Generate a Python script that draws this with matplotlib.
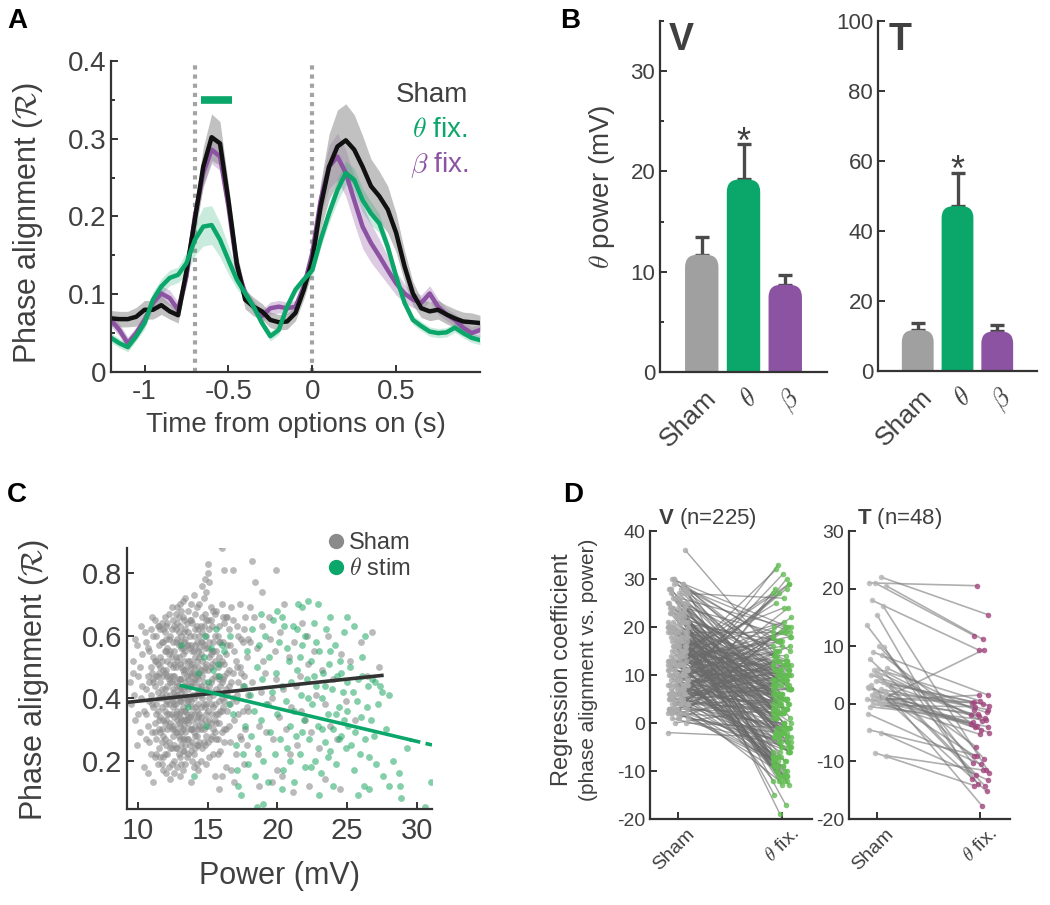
import numpy as np
import matplotlib
matplotlib.use("Agg")
import matplotlib.pyplot as plt
from matplotlib.patches import FancyBboxPatch
from matplotlib.lines import Line2D
from matplotlib.collections import LineCollection
from matplotlib.ticker import MultipleLocator, FuncFormatter
from matplotlib.transforms import ScaledTranslation

# ---------------- data ----------------
# A: phase alignment time courses (sampled every 50 ms from -1.2 s)
t_start, t_step = -1.2, 0.05
sham_R = [0.069, 0.068, 0.068, 0.071, 0.080, 0.080, 0.086, 0.078, 0.073, 0.130,
          0.196, 0.264, 0.302, 0.294, 0.221, 0.140, 0.093, 0.084, 0.078, 0.067,
          0.064, 0.065, 0.076, 0.106, 0.144, 0.213, 0.264, 0.290, 0.298, 0.286,
          0.264, 0.239, 0.226, 0.209, 0.179, 0.136, 0.101, 0.082, 0.078, 0.080,
          0.074, 0.069, 0.065, 0.064, 0.063]
theta_R = [0.044, 0.037, 0.032, 0.046, 0.063, 0.093, 0.110, 0.121, 0.125, 0.140,
           0.170, 0.187, 0.189, 0.170, 0.144, 0.119, 0.101, 0.084, 0.063, 0.046,
           0.054, 0.084, 0.106, 0.119, 0.131, 0.170, 0.204, 0.234, 0.256, 0.247,
           0.221, 0.204, 0.191, 0.161, 0.123, 0.089, 0.067, 0.059, 0.052, 0.050,
           0.051, 0.057, 0.050, 0.044, 0.041]
beta_R = [0.067, 0.054, 0.037, 0.050, 0.067, 0.089, 0.101, 0.095, 0.080, 0.123,
          0.200, 0.256, 0.286, 0.277, 0.213, 0.136, 0.101, 0.084, 0.072, 0.082,
          0.084, 0.082, 0.084, 0.110, 0.153, 0.221, 0.264, 0.277, 0.256, 0.221,
          0.187, 0.166, 0.149, 0.131, 0.114, 0.101, 0.093, 0.089, 0.101, 0.084,
          0.074, 0.067, 0.057, 0.050, 0.054]
sham_sem = [0.010, 0.010, 0.010, 0.012, 0.012, 0.012, 0.012, 0.010, 0.010, 0.015,
            0.020, 0.025, 0.030, 0.028, 0.020, 0.015, 0.012, 0.012, 0.010, 0.010,
            0.010, 0.010, 0.010, 0.012, 0.015, 0.030, 0.042, 0.047, 0.047, 0.045,
            0.040, 0.035, 0.032, 0.030, 0.025, 0.020, 0.015, 0.012, 0.012, 0.012,
            0.012, 0.012, 0.012, 0.012, 0.010]
theta_sem = [0.006, 0.006, 0.006, 0.006, 0.008, 0.010, 0.010, 0.010, 0.010, 0.015,
             0.020, 0.025, 0.025, 0.022, 0.018, 0.012, 0.008, 0.006, 0.006, 0.006,
             0.006, 0.006, 0.006, 0.006, 0.008, 0.010, 0.012, 0.015, 0.015, 0.015,
             0.015, 0.015, 0.012, 0.010, 0.008, 0.006, 0.006, 0.006, 0.006, 0.006,
             0.006, 0.006, 0.006, 0.006, 0.006]
beta_sem = [0.008, 0.008, 0.008, 0.008, 0.008, 0.008, 0.010, 0.010, 0.010, 0.012,
            0.015, 0.018, 0.018, 0.018, 0.015, 0.012, 0.008, 0.008, 0.008, 0.008,
            0.008, 0.008, 0.008, 0.010, 0.012, 0.020, 0.028, 0.030, 0.030, 0.030,
            0.028, 0.025, 0.022, 0.018, 0.015, 0.012, 0.010, 0.010, 0.010, 0.010,
            0.008, 0.008, 0.008, 0.008, 0.008]
event_times = [-0.7, 0.0]
sig_window = [-0.665, -0.48]
sig_level = 0.35

# B: theta power bars
bar_labels = ['Sham', r'$\theta$', r'$\beta$']
v_power = [11.7, 19.2, 8.7]
v_power_err = [1.8, 3.5, 1.0]
t_power = [11.7, 47.1, 11.3]
t_power_err = [2.0, 9.5, 1.7]

# C: single-trial power (x10 mV) vs phase alignment (x100)
sham_scatter = [
    (94, 45), (95, 38), (96, 52), (97, 41), (98, 33), (99, 57), (100, 47), (101, 29), (102, 40), (103, 54),
    (104, 36), (105, 61), (96, 48), (99, 25), (101, 50), (103, 44), (98, 59), (104, 18), (100, 35), (102, 63),
    (106, 43), (107, 31), (108, 55), (109, 22), (110, 48), (111, 37), (112, 65), (113, 27), (114, 51), (115, 40),
    (106, 58), (107, 16), (108, 39), (109, 62), (110, 29), (111, 53), (112, 44), (113, 35), (114, 19), (115, 57),
    (106, 35), (107, 47), (108, 26), (109, 50), (110, 66), (111, 13), (112, 32), (113, 60), (114, 42), (115, 24),
    (107, 56), (109, 41), (111, 46), (113, 52), (115, 33), (108, 45), (110, 38), (112, 21), (114, 63), (106, 27),
    (116, 45), (117, 30), (118, 58), (119, 36), (120, 49), (121, 22), (122, 67), (123, 41), (124, 53), (125, 28),
    (116, 62), (117, 43), (118, 17), (119, 55), (120, 33), (121, 47), (122, 38), (123, 60), (124, 24), (125, 50),
    (116, 34), (117, 52), (118, 40), (119, 27), (120, 63), (121, 56), (122, 31), (123, 14), (124, 45), (125, 37),
    (116, 21), (117, 64), (118, 49), (119, 43), (120, 25), (121, 39), (122, 54), (123, 32), (124, 69), (125, 43),
    (117, 37), (118, 28), (119, 61), (120, 41), (121, 30), (122, 46), (123, 51), (124, 35), (125, 58), (126, 20),
    (116, 53), (118, 33), (120, 55), (122, 26), (124, 40), (119, 48), (121, 64), (123, 45), (125, 31), (117, 19),
    (126, 47), (127, 35), (128, 59), (129, 28), (130, 51), (131, 42), (132, 66), (133, 23), (134, 55), (135, 38),
    (126, 30), (127, 53), (128, 44), (129, 61), (130, 34), (131, 25), (132, 49), (133, 40), (134, 29), (135, 57),
    (126, 63), (127, 41), (128, 18), (129, 46), (130, 70), (131, 33), (132, 37), (133, 58), (134, 45), (135, 27),
    (126, 38), (127, 24), (128, 52), (129, 35), (130, 43), (131, 60), (132, 30), (133, 48), (134, 19), (135, 64),
    (126, 55), (127, 67), (128, 36), (129, 22), (130, 27), (131, 50), (132, 56), (133, 31), (134, 62), (135, 44),
    (127, 45), (128, 29), (129, 53), (130, 39), (131, 19), (132, 43), (133, 65), (134, 36), (135, 50), (136, 32),
    (126, 25), (128, 64), (130, 58), (132, 23), (134, 49), (129, 40), (131, 36), (133, 27), (135, 21), (127, 58),
    (130, 15), (133, 52), (126, 42), (131, 68), (134, 41),
    (136, 46), (137, 34), (138, 57), (139, 26), (140, 50), (141, 41), (142, 63), (143, 30), (144, 53), (145, 37),
    (136, 61), (137, 44), (138, 23), (139, 48), (140, 35), (141, 67), (142, 28), (143, 55), (144, 42), (145, 20),
    (136, 27), (137, 56), (138, 39), (139, 64), (140, 22), (141, 31), (142, 47), (143, 38), (144, 70), (145, 49),
    (136, 39), (137, 25), (138, 50), (139, 33), (140, 60), (141, 53), (142, 36), (143, 17), (144, 31), (145, 58),
    (137, 65), (138, 30), (139, 41), (140, 45), (141, 24), (142, 58), (143, 46), (144, 26), (145, 43), (146, 66),
    (136, 52), (138, 44), (140, 29), (142, 19), (144, 60), (139, 55), (141, 37), (143, 62), (145, 30), (137, 48),
    (140, 73), (142, 41), (144, 35), (146, 52), (138, 13), (141, 46), (143, 25), (145, 63), (139, 20), (136, 34),
    (146, 76), (148, 78), (149, 74), (150, 80), (151, 77), (147, 72), (152, 69), (150, 83),
    (159, 89), (160, 88), (162, 81), (168, 81), (182, 84), (199, 81),
    (146, 40), (147, 57), (148, 33), (149, 51), (150, 26), (151, 62), (152, 38), (153, 46), (154, 55), (155, 29),
    (146, 24), (147, 45), (148, 67), (149, 35), (150, 49), (151, 21), (152, 54), (153, 63), (154, 41), (155, 60),
    (146, 58), (147, 30), (148, 42), (149, 19), (150, 56), (151, 44), (152, 27), (153, 35), (154, 68), (155, 47),
    (147, 63), (149, 60), (151, 33), (153, 55), (155, 38), (148, 25), (150, 36), (152, 65), (154, 30), (156, 43),
    (146, 32), (148, 50), (150, 65), (152, 45), (154, 22), (149, 43), (151, 53), (153, 28), (155, 67), (157, 50),
    (156, 55), (157, 35), (158, 63), (159, 44), (160, 29), (161, 58), (162, 39), (163, 66), (164, 48), (165, 31),
    (156, 27), (157, 60), (158, 46), (159, 23), (160, 52), (161, 37), (162, 64), (163, 43), (164, 57), (165, 49),
    (156, 68), (157, 42), (158, 32), (159, 58), (160, 70), (161, 46), (162, 26), (163, 54), (164, 36), (165, 62),
    (157, 22), (159, 36), (161, 66), (163, 30), (165, 44), (158, 53), (160, 40), (162, 51), (164, 66), (166, 38),
    (160, 15), (162, 30), (155, 15), (158, 11), (163, 18),
    (166, 57), (167, 45), (168, 65), (169, 33), (170, 52), (171, 41), (172, 60), (173, 28), (174, 48), (175, 36),
    (166, 26), (167, 69), (168, 40), (169, 55), (170, 22), (171, 63), (172, 35), (173, 50), (174, 59), (175, 44),
    (176, 62), (177, 30), (178, 53), (179, 41), (180, 58), (176, 47), (177, 66), (178, 25), (179, 36), (180, 69),
    (167, 17), (170, 39), (173, 70), (176, 19), (179, 59), (168, 48), (172, 45), (175, 58), (178, 37), (169, 13),
    (171, 50), (174, 27),
    (182, 45), (185, 56), (187, 31), (189, 63), (191, 48), (193, 38), (195, 59), (197, 27), (199, 46), (201, 34),
    (183, 66), (186, 22), (188, 42), (190, 52), (192, 29), (194, 66), (196, 40), (198, 55), (200, 17), (202, 61),
    (204, 43), (206, 30), (208, 53), (210, 37), (212, 58), (214, 25), (216, 47), (218, 64), (220, 33), (222, 51),
    (205, 70), (209, 22), (213, 44), (217, 36), (221, 60), (224, 29), (226, 55), (228, 41), (230, 24), (232, 49),
    (234, 38), (236, 60), (238, 31), (240, 46), (243, 27), (246, 54), (249, 39), (252, 52), (256, 33), (260, 58),
    (264, 47), (268, 61), (273, 50), (187, 12), (196, 13), (203, 15), (211, 10), (223, 12), (234, 14), (245, 11),
    (184, 77), (189, 74),
    (111, 45), (112, 52), (113, 38), (114, 47), (115, 63), (116, 29), (117, 58), (118, 47), (119, 32), (120, 59),
    (121, 44), (122, 35), (123, 55), (124, 30), (125, 47), (126, 34), (127, 62), (128, 41), (129, 57), (130, 31),
    (131, 46), (132, 54), (133, 36), (134, 59), (135, 33), (136, 57), (137, 40), (138, 65), (139, 37), (140, 55),
    (141, 28), (142, 52), (143, 42), (144, 48), (145, 34), (146, 61), (147, 38), (148, 56), (149, 28), (150, 42),
    (151, 58), (152, 32), (153, 51), (154, 37), (155, 52), (156, 35), (157, 47), (158, 39), (159, 51), (160, 45),
    (112, 29), (114, 36), (116, 50), (118, 62), (120, 38), (122, 59), (124, 62), (126, 51), (128, 33), (130, 46),
    (132, 27), (134, 33), (136, 22), (138, 35), (140, 40), (142, 33), (144, 56), (146, 47), (148, 37), (150, 31),
    (152, 50), (154, 58), (156, 32), (158, 58), (160, 36), (162, 47), (164, 41), (113, 22), (115, 48), (117, 26),
    (119, 66), (121, 52), (123, 24), (125, 65), (127, 29), (129, 32), (131, 56), (133, 44), (135, 47), (137, 60),
    (139, 30), (141, 62), (143, 34), (145, 54), (147, 26), (149, 65), (151, 40), (153, 42), (155, 33), (157, 27),
    (111, 60), (113, 47), (115, 30), (117, 41), (119, 22), (121, 35), (123, 47), (125, 39), (127, 50), (129, 66),
    (131, 29), (133, 61), (135, 40), (137, 30), (139, 45), (141, 57), (143, 50), (145, 44), (147, 49), (149, 38),
    (128, 24), (130, 21), (132, 17), (134, 25), (136, 43), (138, 47), (140, 18), (142, 25), (124, 19), (126, 16),
    (122, 18), (120, 16), (118, 21), (128, 69), (132, 71), (136, 68), (138, 70), (142, 69), (134, 72), (130, 63),
    (127, 38), (129, 44), (131, 39), (133, 33), (135, 35), (137, 52), (139, 51), (141, 48), (143, 44), (145, 41),
]
theta_scatter = [
    (131, 57), (136, 37), (140, 15), (143, 48), (147, 53), (148, 60), (150, 45), (152, 56), (154, 49), (156, 62),
    (158, 47), (160, 57), (157, 51), (149, 31), (162, 55), (165, 38), (166, 60), (168, 35), (170, 25), (171, 17),
    (172, 12), (174, 9), (175, 22), (176, 44), (177, 31),
    (178, 55), (179, 19), (180, 41), (181, 28), (182, 62), (183, 36), (184, 15), (185, 50), (186, 24), (187, 57),
    (188, 33), (189, 46), (190, 20), (191, 60), (192, 38), (193, 13), (194, 53), (195, 29), (196, 42), (197, 65),
    (198, 22), (199, 48), (200, 35), (201, 58), (202, 27), (203, 44), (204, 17), (205, 63), (206, 39), (207, 24),
    (208, 52), (209, 31), (210, 45), (190, 6), (185, 5), (188, 67), (200, 68), (203, 11), (207, 56), (209, 20),
    (211, 63), (212, 36), (213, 28), (214, 49), (215, 70), (216, 22), (217, 41), (218, 57), (219, 33), (220, 18),
    (221, 46), (222, 71), (223, 27), (224, 52), (225, 38), (226, 64), (227, 20), (228, 44), (229, 31), (230, 55),
    (231, 16), (232, 40), (233, 48), (234, 26), (235, 62), (236, 35), (237, 51), (238, 23), (239, 43), (240, 30),
    (241, 57), (242, 19), (243, 47), (244, 37), (245, 52), (246, 28), (247, 42), (248, 33), (249, 24), (250, 45),
    (212, 13), (214, 62), (216, 53), (218, 29), (220, 60), (222, 40), (224, 18), (226, 47), (228, 58), (230, 9),
    (232, 30), (234, 44), (236, 21), (238, 55), (240, 12), (242, 35), (244, 27), (246, 48), (248, 61), (250, 36),
    (218, 69), (229, 70), (238, 66), (203, 66),
    (251, 31), (252, 50), (253, 25), (254, 42), (255, 17), (256, 29), (257, 39), (258, 46), (259, 22), (260, 34),
    (261, 47), (262, 12), (263, 27), (264, 37), (265, 44), (266, 21), (267, 33), (268, 46), (269, 28), (270, 45),
    (271, 19), (272, 38), (274, 44), (276, 15), (278, 30), (280, 41), (275, 42), (283, 20), (287, 16), (289, 8),
    (293, 24), (280, 12), (288, 12), (306, 5), (310, 13), (263, 60), (258, 9), (266, 11), (261, 53), (255, 63),
    (250, 66),
]
sham_fit = (0.0047, 0.343, 9.2, 27.5)      # slope, intercept, x from, x to
theta_fit = (-0.01055, 0.578, 13.1, 29.5)
theta_fit_extrap = 31.1

# D: regression coefficients per electrode (sham, theta fix.)
v_pairs = [
    (28, 5), (27, 8), (26, 2), (25, 10), (24, 4), (23, 7), (22, 12), (21, 3), (20, 9), (19, 6),
    (30, 1), (29, 11), (28, -3), (27, 6), (26, 9), (25, 0), (24, 11), (23, 2), (22, 8), (21, 5),
    (20, -2), (19, 10), (18, 4), (17, 8), (28, 12), (26, -4), (24, 7), (22, 1), (20, 11), (18, 3),
    (36, 13), (30, 15), (29, 4), (27, -1), (25, 6), (23, 9), (21, 0), (19, 7), (17, 2), (16, 9),
    (27, 14), (25, 3), (23, -3), (21, 10), (19, 1), (17, 5), (16, -1), (24, 18), (22, 16), (20, 14),
    (26, 20), (28, 17), (29, 19), (25, 15), (23, 13), (21, 17), (19, 19), (27, 26), (30, 20), (28, 9),
    (2, 30), (4, 28), (6, 31), (8, 27), (10, 29), (12, 25), (3, 20), (5, 19), (7, 22), (9, 18),
    (11, 20), (13, 19), (14, 17), (6, 16), (8, 14), (10, 13), (12, 16), (4, 12), (15, 21), (5, 24),
    (7, 33), (9, 28), (11, 15), (13, 12), (3, 15), (14, 29), (12, 32), (8, 19), (6, 11), (10, 20),
    (1, 18), (2, 13), (15, 14), (11, 11), (13, 18), (7, 17), (9, 12), (5, 10), (14, 27), (16, 24),
    (1, -5), (2, -8), (3, -11), (4, -3), (5, -9), (6, -12), (7, -6), (8, -2), (9, -10), (10, -7),
    (11, -4), (12, -12), (13, -8), (14, -1), (15, -11), (16, -5), (17, -9), (18, -3), (19, -13), (20, -7),
    (0, -1), (2, -4), (4, -7), (6, -2), (8, -9), (10, -11), (12, -3), (14, -6), (16, -10), (18, -8),
    (20, -12), (22, -5), (24, -9), (25, -15), (23, -17), (21, -19), (3, -6), (5, -1), (7, -10), (9, -5),
    (11, -8), (13, -2), (15, -6), (17, -11), (19, -4), (1, -2), (3, -9), (5, -4), (7, -1), (9, -7),
    (11, -12), (13, -5), (15, -3), (17, -7), (-2, -3), (6, -8), (8, -6), (10, -1), (12, -9), (14, -11),
    (16, -2), (18, -6), (2, 0), (4, -1), (22, -10), (26, -12), (27, -7), (28, -11), (24, -2), (21, -13),
    (3, 8), (4, 5), (5, 2), (6, 10), (7, 6), (8, 3), (9, 9), (10, 4), (11, 7), (12, 1),
    (13, 10), (14, 5), (15, 8), (16, 2), (17, 12), (18, 6), (19, 3), (20, 7), (3, 2), (5, 6),
    (7, 11), (9, 1), (11, 3), (13, 6), (15, 0), (17, 4), (19, 9), (4, 9), (6, 4), (8, 7),
    (10, 10), (12, 5), (14, 2), (16, 7), (18, 10), (20, 4), (5, 13), (7, 3), (9, 6), (11, 9),
    (13, 4), (15, 11), (17, 1), (19, 5), (21, 8), (8, 12), (10, 2), (12, 8), (14, 13), (16, 4),
    (6, 7), (4, 3), (2, 5), (1, 9), (0, 3),
]
t_pairs = [
    (21, 20.5), (22, 15.5), (21, 11.8), (20.5, 11.2), (18, 9.3), (17, -12), (15.5, -13), (13.7, -10.3),
    (10, -9.5), (9.8, -14), (9, 1.5), (8.5, -4), (7.8, -11.5), (6, 0.5), (5.8, -2), (5.5, -3),
    (5, -1.5), (4.5, -7.5), (4, -2.5), (3.5, 0.3), (3, -4.5), (2.7, -3.8), (2.5, -1), (2, -9),
    (1.8, 0), (1.5, -2.2), (1.2, -5), (1, 0.2), (0.8, -3.2), (0.5, 9.4), (0.3, -1.8), (0, -4),
    (-0.3, -0.5), (-0.5, -2.8), (0.2, -5.3), (1.3, -3.5), (2.2, -17.7), (3.2, -15.2), (4.8, -12.3), (5.2, -14.2),
    (6.2, -1), (-1.7, -10.5), (-4.5, -9), (-5, -13.2), (-8.5, -14.2), (-9, -11.5), (0.6, 1.5), (3.8, -0.3),
]
d_labels = ['Sham', r'$\theta$ fix.']

# ---------------- style ----------------
plt.rcParams['font.family'] = ['Liberation Sans', 'DejaVu Sans']
plt.rcParams['mathtext.fontset'] = 'custom'
plt.rcParams['mathtext.rm'] = 'Liberation Sans'
plt.rcParams['mathtext.bf'] = 'Liberation Sans:bold'
plt.rcParams['axes.unicode_minus'] = False
plt.rcParams['xtick.direction'] = 'in'
plt.rcParams['ytick.direction'] = 'in'

TXT = '#404040'
AX = '#333333'
GREEN = '#0ba66a'
PURPLE = '#8b53a1'
GRAY = '#a0a0a0'

W, H = 1050, 905
fig = plt.figure(figsize=(W / 100, H / 100), dpi=100)
gfmt = FuncFormatter(lambda v, p: f'{v:g}')


def px_axes(l, t, r, b):
    return fig.add_axes([l / W, 1 - b / H, (r - l) / W, (b - t) / H])


def style(ax, size):
    for s in ['top', 'right']:
        ax.spines[s].set_visible(False)
    for s in ['left', 'bottom']:
        ax.spines[s].set_color(AX)
        ax.spines[s].set_linewidth(1.6)
    ax.tick_params(which='both', colors=AX, labelcolor=TXT, labelsize=size, width=1.4)
    ax.tick_params(which='major', length=5)
    ax.tick_params(which='minor', length=3)
    ax.xaxis.set_major_formatter(gfmt)
    ax.yaxis.set_major_formatter(gfmt)


# ---------------- A ----------------
ax = px_axes(111, 61, 480, 372)
t = np.round(t_start + t_step * np.arange(len(sham_R)), 3)
series = [
    (beta_R, beta_sem, PURPLE, 0.3),
    (sham_R, sham_sem, '#8f8f8f', 0.55),
    (theta_R, theta_sem, GREEN, 0.22),
]
for y, e, c, a in series:
    y, e = np.array(y), np.array(e)
    ax.fill_between(t, y - e, y + e, color=c, alpha=a, lw=0)
for y, c in [(beta_R, PURPLE), (sham_R, '#111111'), (theta_R, GREEN)]:
    ax.plot(t, y, color=c, lw=3.2, solid_joinstyle='round')
for ev in event_times:
    ax.axvline(ev, color='#a3a3a3', lw=3, ls=(0, (1, 1.2)), zorder=0)
ax.plot(sig_window, [sig_level, sig_level], color=GREEN, lw=5.5, solid_capstyle='butt')
ax.set_xlim(-1.2, 1.0)
ax.set_ylim(0, 0.4)
ax.set_xticks([-1, -0.5, 0, 0.5])
ax.set_yticks([0, 0.1, 0.2, 0.3, 0.4])
ax.yaxis.set_minor_locator(MultipleLocator(0.05))
style(ax, 20)
ax.tick_params(axis='x', pad=5)
ax.set_xlabel('Time from options on (s)', fontsize=20, color=TXT, va='top')
ax.xaxis.set_label_coords(0.5, -0.128)
ax.set_ylabel(r'Phase alignment ($\mathcal{R}$)', fontsize=22, color=TXT, math_fontfamily='cm', va='center')
ax.yaxis.set_label_coords(-0.225, 0.479)
for txt, c, yy in [('Sham', TXT, 0.891), (r'$\theta$ fix.', GREEN, 0.778), (r'$\beta$ fix.', PURPLE, 0.666)]:
    ax.text(0.967, yy, txt, color=c, fontsize=20, ha='right', va='center', transform=ax.transAxes,
            math_fontfamily='cm')


# ---------------- B ----------------
def rounded_bars(ax, means, colors, width=0.8, r=0.3):
    x0, x1 = ax.get_xlim()
    y0, y1 = ax.get_ylim()
    bb = ax.get_position()
    aspect = ((y1 - y0) / (bb.height * H)) / ((x1 - x0) / (bb.width * W))
    low = y0 - (y1 - y0) * 0.2
    for i, (m, c) in enumerate(zip(means, colors)):
        ax.add_patch(FancyBboxPatch((i + 1 - width / 2, low), width, m - low,
                                    boxstyle=f'round,pad=0,rounding_size={r}',
                                    mutation_aspect=aspect, fc=c, ec='none', zorder=2))


def bar_panel(ax, means, errs, ymax, yticks, letter, star_off):
    ax.set_xlim(0, 4)
    ax.set_ylim(0, ymax)
    rounded_bars(ax, means, [GRAY, GREEN, PURPLE])
    xs = np.arange(1, 4)
    ax.errorbar(xs, means, yerr=[np.zeros(3), errs], fmt='none', ecolor='#4a4a4a',
                elinewidth=2.4, capsize=5, capthick=2.4, zorder=1)
    ax.annotate('*', (2, means[1] + errs[1]), xytext=(0, star_off), textcoords='offset points',
                ha='center', va='baseline', fontsize=26, color=TXT)
    ax.set_yticks(yticks)
    style(ax, 16)
    ax.set_xticks(xs)
    ax.set_xticklabels(bar_labels, rotation=45, ha='right', va='center', rotation_mode='anchor',
                       fontsize=19, math_fontfamily='cm')
    ax.tick_params(axis='x', length=0, pad=16)
    for lab in ax.get_xticklabels():
        lab.set_transform(lab.get_transform() + ScaledTranslation(11 / 100, 0, fig.dpi_scale_trans))
    ax.text(0.13, 0.946, letter, transform=ax.transAxes, fontsize=27, fontweight='bold',
            color=TXT, ha='center', va='center')


axv = px_axes(660, 21, 827, 372)
bar_panel(axv, v_power, v_power_err, 35, [0, 10, 20, 30], 'V', -6)
axv.yaxis.set_minor_locator(MultipleLocator(5))
axv.set_ylabel(r'$\theta$ power (mV)', fontsize=20, color=TXT, math_fontfamily='cm', va='center')
axv.yaxis.set_label_coords(-0.347, 0.527)

axt = px_axes(878, 21, 1037, 371)
bar_panel(axt, t_power, t_power_err, 100, [0, 20, 40, 60, 80, 100], 'T', -6)
axt.texts[-1].set_x(0.138)

# ---------------- C ----------------
ax = px_axes(127, 548, 432, 809)
sp = np.array(sham_scatter, dtype=float)
tp = np.array(theta_scatter, dtype=float)
ax.scatter(sp[:, 0] / 10, sp[:, 1] / 100, s=24, color='#8c8c8c', alpha=0.6, lw=0, zorder=1)
ax.scatter(tp[:, 0] / 10, tp[:, 1] / 100, s=24, color='#1fa865', alpha=0.55, lw=0, zorder=2)
k, b, xa, xb = sham_fit
ax.plot([xa, xb], [k * xa + b, k * xb + b], color='#333333', lw=2.6, zorder=3)
k, b, xa, xb = theta_fit
ax.plot([xa, xb], [k * xa + b, k * xb + b], color=GREEN, lw=2.6, zorder=3)
ax.plot([xb, theta_fit_extrap], [k * xb + b, k * theta_fit_extrap + b], color=GREEN, lw=2.6,
        ls=(0, (3, 1.5)), zorder=3)
ax.set_xlim(9.2, 31.1)
ax.set_ylim(0.045, 0.88)
ax.set_xticks([10, 15, 20, 25, 30])
ax.set_yticks([0.2, 0.4, 0.6, 0.8])
style(ax, 21)
ax.tick_params(axis='x', pad=6)
ax.set_xlabel('Power (mV)', fontsize=22, color=TXT, va='top')
ax.xaxis.set_label_coords(0.5, -0.2)
ax.set_ylabel(r'Phase alignment ($\mathcal{R}$)', fontsize=22, color=TXT, math_fontfamily='cm', va='center')
ax.yaxis.set_label_coords(-0.305, 0.494)
handles = [Line2D([], [], ls='none', marker='o', ms=10, color='#8a8a8a'),
           Line2D([], [], ls='none', marker='o', ms=10, color=GREEN)]
leg = ax.legend(handles, ['Sham', r'$\theta$ stim'], loc='upper left', bbox_to_anchor=(0.655, 1.06),
                frameon=False, fontsize=17, handlelength=0.8, handletextpad=0.15, labelspacing=0.15,
                borderpad=0, borderaxespad=0)
for tx in leg.get_texts():
    tx.set_color(TXT)
    tx.set_math_fontfamily('cm')


# ---------------- D ----------------
jit = np.array([-0.08, 0.04, -0.02, 0.09, -0.05, 0.06, 0.0, -0.10, 0.02, 0.07, -0.04,
                0.05, -0.07, 0.01, -0.03, 0.08, -0.06, 0.03, -0.01, 0.10, -0.09])


def pair_panel(ax, pairs, ylim, yticks, c_sham, c_fix, c_line, lw, title):
    p = np.array(pairs, dtype=float)
    n = len(p)
    x1 = 1 + np.resize(jit, n)
    x2 = 2 + np.resize(np.roll(jit, 7), n) * 0.9
    segs = [[(a, s), (bx, f)] for a, s, bx, f in zip(x1, p[:, 0], x2, p[:, 1])]
    ax.add_collection(LineCollection(segs, colors=c_line, linewidths=lw, alpha=0.6, zorder=1))
    ax.scatter(x1, p[:, 0], s=16, color=c_sham, alpha=0.8, lw=0, zorder=2)
    ax.scatter(x2, p[:, 1], s=16, color=c_fix, alpha=0.8, lw=0, zorder=2)
    ax.set_xlim(0.73, 2.29)
    ax.set_ylim(*ylim)
    ax.set_yticks(yticks)
    style(ax, 14)
    ax.set_xticks([1, 2])
    ax.set_xticklabels(d_labels, rotation=45, ha='right', va='center', rotation_mode='anchor',
                       fontsize=14, math_fontfamily='cm')
    ax.tick_params(axis='x', pad=9)
    for lab in ax.get_xticklabels():
        lab.set_transform(lab.get_transform() + ScaledTranslation(14 / 100, 0, fig.dpi_scale_trans))
    ax.text(0.05, 1.045, title, transform=ax.transAxes, fontsize=16, color=TXT, ha='left', va='center')


axd1 = px_axes(650, 531, 812, 819)
pair_panel(axd1, v_pairs, (-20, 40), range(-20, 41, 10), '#ababab', '#62bd52', '#6a6a6a', 1.0,
           r'$\mathbf{V}$ (n=225)')
axd2 = px_axes(849, 531, 1010, 819)
pair_panel(axd2, t_pairs, (-20, 30), range(-20, 31, 10), '#b5b5b5', '#a0437c', '#7a7a7a', 1.2,
           r'$\mathbf{T}$ (n=48)')
fig.text(562 / W, 1 - 670 / H, 'Regression coefficient', rotation=90, fontsize=17, color=TXT,
         ha='center', va='center')
fig.text(588 / W, 1 - 670 / H, '(phase alignment vs. power)', rotation=90, fontsize=15, color=TXT,
         ha='center', va='center')

# panel letters
for x, y, s in [(7, 8, 'A'), (560, 8, 'B'), (7, 482, 'C'), (563, 482, 'D')]:
    fig.text(x / W, 1 - y / H, s, fontsize=20, fontweight='bold', ha='left', va='top', color='black')

fig.savefig('out.png', dpi=100)
